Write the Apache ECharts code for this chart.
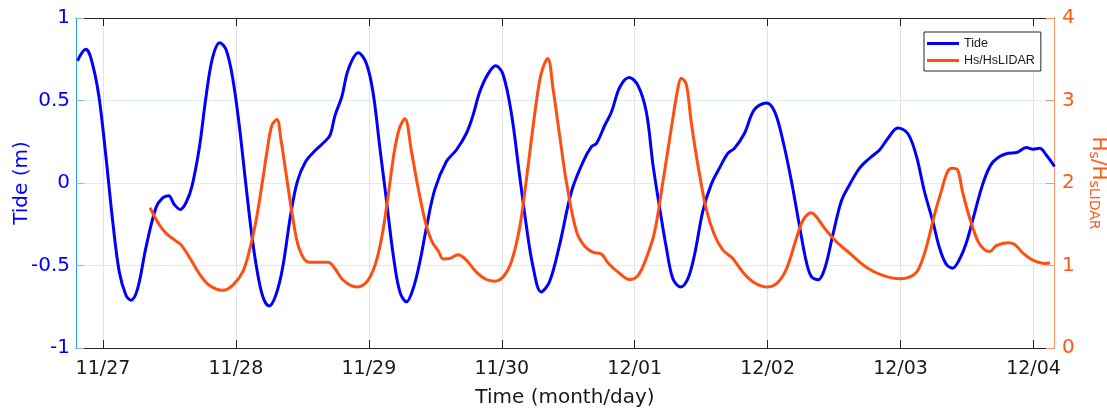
<!DOCTYPE html>
<html><head><meta charset="utf-8">
<script src="https://cdn.jsdelivr.net/npm/echarts@6/dist/echarts.min.js"></script>
<style>html,body{margin:0;padding:0;background:#fff}#c{width:1107px;height:417px}</style>
</head><body><div id="c"></div>
<script>
// x values are hours since 11/27 00:00
const dayLabels = ['11/27','11/28','11/29','11/30','12/01','12/02','12/03','12/04'];
const dayHours = [0, 24, 48, 72, 96, 120, 144, 168];

const tideHours = [-4.6,-3.1,-2.2,-0.8,0.5,1.75,2.95,4.15,5.05,6.26,7.76,9.56,10.77,11.85,12.87,13.95,14.98,16.06,17.38,18.59,19.79,21.1,22.2,23.4,24.6,25.8,27.0,28.2,29.1,30.0,31.2,32.4,33.9,35.1,36.6,38.4,40.0,41.0,41.9,43.1,44.3,46.1,47.6,48.8,50.0,51.2,52.4,53.6,54.8,56.0,57.2,58.4,59.9,62.0,63.8,65.6,66.8,68.0,69.5,70.9,72.2,73.7,75.2,76.4,77.6,79.1,80.6,82.4,84.6,86.7,88.2,89.1,90.6,91.8,93.3,95.0,96.6,98.1,99.3,100.5,101.7,102.9,104.3,105.6,106.8,108.3,109.8,111.3,112.8,114.0,115.8,117.6,119.8,121.3,122.8,124.3,125.8,127.0,127.9,129.1,130.3,131.8,133.3,134.8,136.6,138.4,140.2,141.7,143.5,145.3,146.8,148.3,149.8,151.0,152.2,153.4,154.6,155.8,157.3,158.8,160.3,161.9,163.4,165.0,166.7,167.9,169.1,170.3,171.8];
const tideValues = [0.74,0.81,0.76,0.54,0.17,-0.23,-0.54,-0.68,-0.71,-0.64,-0.39,-0.15,-0.09,-0.077,-0.13,-0.16,-0.12,-0.02,0.21,0.52,0.76,0.85,0.81,0.64,0.35,-0.01,-0.35,-0.60,-0.71,-0.745,-0.68,-0.52,-0.19,0.01,0.13,0.20,0.25,0.29,0.41,0.52,0.69,0.79,0.72,0.54,0.21,-0.11,-0.435,-0.66,-0.72,-0.64,-0.48,-0.27,-0.04,0.13,0.20,0.30,0.41,0.55,0.66,0.71,0.66,0.43,0.05,-0.25,-0.50,-0.66,-0.60,-0.38,-0.05,0.13,0.22,0.24,0.35,0.43,0.58,0.64,0.59,0.43,0.11,-0.15,-0.39,-0.58,-0.63,-0.58,-0.435,-0.17,-0.01,0.09,0.18,0.21,0.30,0.445,0.485,0.43,0.25,0.01,-0.27,-0.48,-0.567,-0.587,-0.52,-0.31,-0.11,-0.01,0.09,0.15,0.20,0.27,0.334,0.30,0.17,-0.05,-0.23,-0.39,-0.49,-0.516,-0.465,-0.37,-0.19,-0.01,0.11,0.16,0.18,0.185,0.215,0.205,0.21,0.17,0.10];

const hsHours = [8.5,10.2,11.4,12.9,14.1,15.6,17.4,19.2,21.6,23.4,25.2,26.4,27.6,28.8,29.7,30.5,31.4,32.1,33.0,34.2,35.4,37.2,39.2,40.7,41.9,43.4,45.8,47.6,49.1,50.3,51.5,52.5,53.5,54.5,55.7,56.9,58.2,59.4,60.6,61.4,62.6,64.1,65.6,67.4,69.2,70.7,72.2,73.7,75.2,76.4,77.6,78.8,79.5,80.3,81.3,82.5,83.7,85.5,87.0,88.5,90.0,91.2,93.0,95.1,96.6,98.1,99.6,101.1,102.6,103.8,104.4,105.3,106.2,107.4,108.9,110.4,111.9,113.7,115.5,117.4,119.8,121.6,123.4,125.2,126.4,127.9,128.8,130.3,132.4,134.8,137.8,140.8,143.8,145.6,147.1,148.6,150.1,151.3,152.5,153.4,154.3,155.2,156.5,158.0,159.2,160.1,161.3,163.4,164.6,166.1,167.9,170.0,171.0];
const hsValues = [1.70,1.49,1.39,1.31,1.25,1.10,0.90,0.76,0.70,0.76,0.92,1.17,1.53,2.02,2.42,2.70,2.77,2.54,2.14,1.61,1.21,1.04,1.04,1.04,0.96,0.82,0.74,0.80,1.00,1.33,1.85,2.34,2.66,2.78,2.38,1.94,1.53,1.29,1.17,1.08,1.085,1.13,1.065,0.92,0.83,0.81,0.86,1.04,1.45,2.02,2.66,3.23,3.41,3.51,3.12,2.55,2.0,1.41,1.23,1.16,1.14,1.03,0.92,0.83,0.88,1.09,1.41,2.02,2.66,3.15,3.27,3.20,2.74,2.22,1.69,1.37,1.19,1.085,0.92,0.80,0.74,0.78,0.96,1.33,1.55,1.64,1.59,1.45,1.29,1.15,0.98,0.88,0.84,0.86,0.94,1.21,1.61,1.89,2.14,2.18,2.16,1.89,1.57,1.29,1.19,1.17,1.24,1.275,1.255,1.15,1.065,1.025,1.03];

const FONT = 'DejaVu Sans';
const BLUE = '#0000FF';
const ORANGE = '#FF4F10';
const ORANGE_TXT = '#FF5A14';
const X_MIN = -4.87, X_MAX = 171.7;

const chart = echarts.init(document.getElementById('c'), null, {renderer: 'canvas'});
const option = {
  animation: false,
  backgroundColor: '#ffffff',
  grid: {left: 76, right: 53, top: 18, bottom: 69, containLabel: false, outerBoundsMode: 'none'},
  legend: {
    orient: 'vertical', left: 924, top: 32,
    padding: [5, 6, 4, 3], itemGap: 4, itemWidth: 32, itemHeight: 3, icon: 'rect',
    borderColor: '#262626', borderWidth: 1, backgroundColor: '#ffffff',
    textStyle: {fontFamily: 'Liberation Sans', fontSize: 12.5, color: '#1a1a1a'},
    data: ['Tide', 'Hs/HsLIDAR']
  },
  xAxis: [{
    type: 'value', min: X_MIN, max: X_MAX, position: 'bottom',
    axisLine: {show: true, onZero: false, lineStyle: {color: '#262626', width: 1}},
    axisTick: {show: true, inside: true, length: 8, customValues: dayHours, lineStyle: {color: '#262626'}},
    axisLabel: {customValues: dayHours, formatter: v => dayLabels[dayHours.indexOf(Math.round(v))] || '',
      fontSize: 19, color: '#1a1a1a', fontFamily: FONT, margin: 12},
    splitLine: {show: true, lineStyle: {color: '#E3E3E3', width: 1}},
    name: 'Time (month/day)', nameLocation: 'middle', nameGap: 40, nameMoveOverlap: false,
    nameTextStyle: {fontSize: 20, color: '#1a1a1a', fontFamily: FONT}
  }, {
    type: 'value', min: X_MIN, max: X_MAX, position: 'top',
    axisLine: {show: true, onZero: false, lineStyle: {color: '#262626', width: 1}},
    axisTick: {show: true, inside: true, length: 8, customValues: dayHours, lineStyle: {color: '#262626'}},
    axisLabel: {show: false}, splitLine: {show: false}
  }],
  yAxis: [{
    type: 'value', min: -1, max: 1, interval: 0.5, position: 'left',
    axisLine: {show: true, onZero: false, lineStyle: {color: '#2AA5DF', width: 1}},
    axisTick: {show: true, inside: true, length: 8, lineStyle: {color: '#7CC3EA'}},
    axisLabel: {fontSize: 20, color: BLUE, fontFamily: FONT, margin: 6},
    splitLine: {show: true, lineStyle: {color: '#DDEDF8', width: 1}},
    name: 'Tide (m)', nameLocation: 'middle', nameGap: 44, nameRotate: 90, nameMoveOverlap: false,
    nameTextStyle: {fontSize: 20, color: BLUE, fontFamily: FONT}
  }, {
    type: 'value', min: 0, max: 4, interval: 1, position: 'right',
    axisLine: {show: true, onZero: false, lineStyle: {color: '#FF9466', width: 1}},
    axisTick: {show: true, inside: true, length: 8, lineStyle: {color: '#FF9466'}},
    axisLabel: {fontSize: 20, color: ORANGE_TXT, fontFamily: FONT, margin: 8},
    splitLine: {show: false},
    name: '{b|H}{s|s}{b|/H}{s|sLIDAR}', nameLocation: 'middle', nameGap: 33, nameRotate: -90, nameMoveOverlap: false,
    nameTextStyle: {fontSize: 20, color: ORANGE_TXT, fontFamily: FONT,
      rich: {
        b: {fontSize: 20, color: ORANGE_TXT, fontFamily: FONT},
        s: {fontSize: 14, color: ORANGE_TXT, fontFamily: FONT, verticalAlign: 'bottom', padding: [8, 0, 0, 0]}
      }}
  }],
  series: [{
    name: 'Tide', type: 'line', xAxisIndex: 0, yAxisIndex: 0,
    data: tideHours.map((h, i) => [h, tideValues[i]]),
    smooth: 0.35, symbol: 'none', clip: false,
    lineStyle: {color: BLUE, width: 3}, itemStyle: {color: BLUE}
  }, {
    name: 'Hs/HsLIDAR', type: 'line', xAxisIndex: 0, yAxisIndex: 1,
    data: hsHours.map((h, i) => [h, hsValues[i]]),
    smooth: 0.35, symbol: 'none', clip: false,
    lineStyle: {color: ORANGE, width: 3}, itemStyle: {color: ORANGE}
  }]
};
chart.setOption(option);
</script>
</body></html>
